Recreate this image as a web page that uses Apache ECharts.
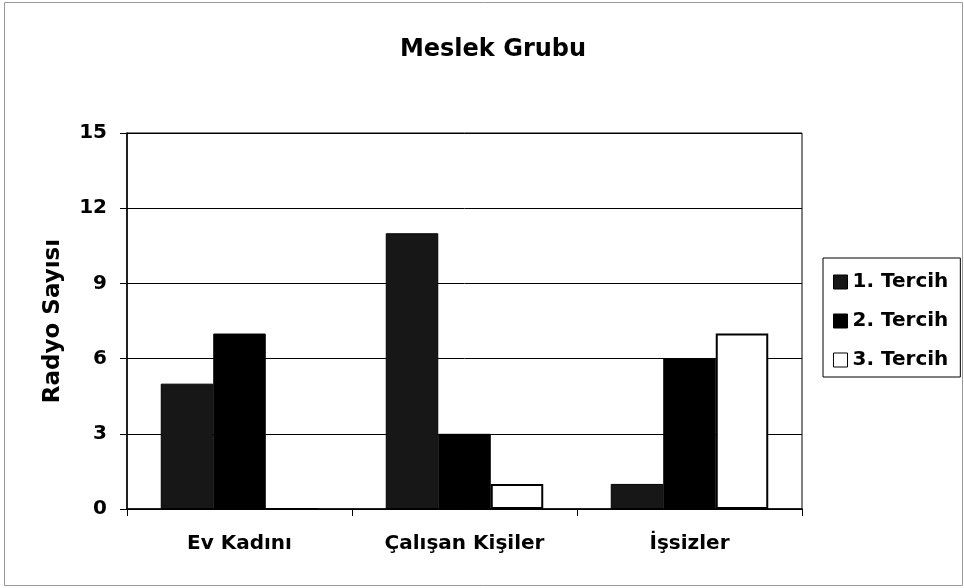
<!DOCTYPE html>
<html>
<head>
<meta charset="utf-8">
<script src="https://cdn.jsdelivr.net/npm/echarts@6/dist/echarts.min.js"></script>
<style>
html,body{margin:0;padding:0;background:#fff;}
#chart{width:964px;height:588px;}
</style>
</head>
<body>
<div id="chart"></div>
<script>
const title = "Meslek Grubu";
const yAxisName = "Radyo Sayısı";
const categories = ["Ev Kadını", "Çalışan Kişiler", "İşsizler"];
const seriesNames = ["1. Tercih", "2. Tercih", "3. Tercih"];
const tercih1 = [5, 11, 1];
const tercih2 = [7, 3, 6];
const tercih3 = [0, 1, 7];
const yTicks = [0, 3, 6, 9, 12, 15];

const FONT = "'DejaVu Sans', 'Liberation Sans', Arial, sans-serif";
const chart = echarts.init(document.getElementById('chart'), null, {renderer: 'canvas'});

const seriesData = [tercih1, tercih2, tercih3];
const fills = ['#171717', '#000000', '#ffffff'];

chart.setOption({
  backgroundColor: '#ffffff',
  animation: false,
  title: {
    text: title,
    left: 488,
    textAlign: 'center',
    top: 33,
    textStyle: {fontFamily: FONT, fontWeight: 'bold', fontSize: 24, color: '#000'}
  },
  legend: {
    orient: 'vertical',
    left: 823,
    top: 258,
    padding: [13, 12, 6, 10],
    itemGap: 17,
    itemWidth: 14,
    itemHeight: 14,
    borderColor: '#000',
    borderWidth: 1,
    icon: 'rect',
    textStyle: {fontFamily: FONT, fontWeight: 'bold', fontSize: 20, color: '#000', lineHeight: 22},
    data: seriesNames.map((n, i) => ({
      name: n,
      itemStyle: {color: fills[i], borderColor: '#000', borderWidth: 1}
    }))
  },
  grid: {
    left: 127, right: 162, top: 133, bottom: 79,
    show: true, borderColor: '#000', borderWidth: 1
  },
  xAxis: {
    type: 'category',
    data: categories,
    axisLine: {lineStyle: {color: '#000', width: 1.5}},
    axisTick: {show: true, length: 7, lineStyle: {color: '#000'}},
    axisLabel: {fontFamily: FONT, fontWeight: 'bold', fontSize: 20, color: '#000', margin: 25}
  },
  yAxis: {
    type: 'value',
    min: yTicks[0],
    max: yTicks[yTicks.length - 1],
    interval: yTicks[1] - yTicks[0],
    name: yAxisName,
    nameLocation: 'middle',
    nameGap: 62,
    nameTextStyle: {fontFamily: FONT, fontWeight: 'bold', fontSize: 23, color: '#000'},
    axisLine: {show: true, lineStyle: {color: '#000', width: 1.5}},
    axisTick: {show: true, length: 7, lineStyle: {color: '#000'}},
    axisLabel: {fontFamily: FONT, fontWeight: 'bold', fontSize: 20, color: '#000', margin: 20},
    splitLine: {show: true, lineStyle: {color: '#000', width: 1}}
  },
  series: seriesData.map((d, i) => ({
    name: seriesNames[i],
    type: 'bar',
    data: d,
    barGap: '0%',
    barCategoryGap: '30%',
    itemStyle: {color: fills[i], borderColor: '#000', borderWidth: i === 2 ? 2 : 1}
  })),
  graphic: [{
    type: 'rect',
    shape: {x: 4.5, y: 2.5, width: 958, height: 583},
    style: {fill: 'none', stroke: '#999', lineWidth: 1},
    silent: true,
    z: -1
  }]
});
</script>
</body>
</html>
